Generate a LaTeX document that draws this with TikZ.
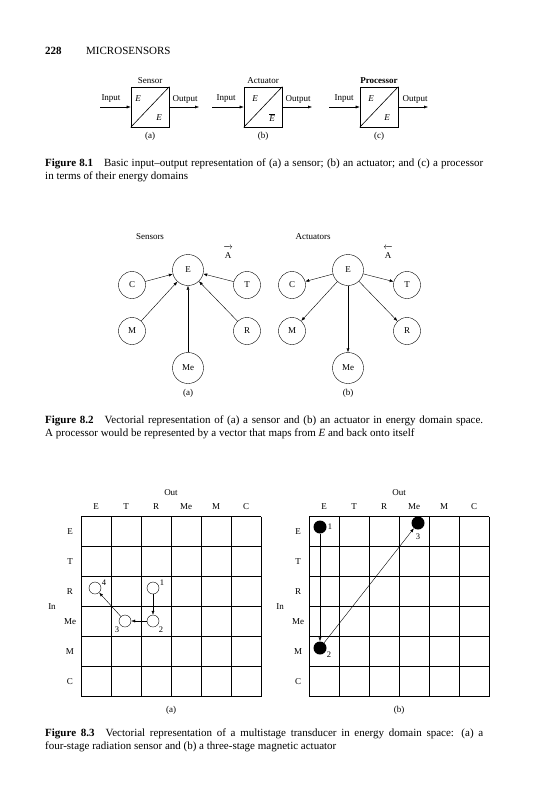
\documentclass[tikz,border=0pt]{standalone}
\usepackage{fontspec}
\setmainfont{Liberation Serif}
\usepackage{tikz}
\usetikzlibrary{positioning,arrows.meta}
\tikzset{
  bloque/.style={rectangle, draw, semithick, minimum width=38pt, minimum height=40pt, inner sep=0pt},
  etiq/.style={font=\fontsize{9}{10}\selectfont, inner sep=1pt},
  dominio/.style={circle, draw, thin, minimum size=27pt, inner sep=0pt, font=\fontsize{9}{10}\selectfont},
  dominiog/.style={dominio, minimum size=31pt},
  estado/.style={circle, draw, thin, minimum size=12pt, inner sep=0pt},
  estadon/.style={circle, fill, minimum size=13pt, inner sep=0pt},
  num/.style={font=\fontsize{8.5}{10}\selectfont, inner sep=0pt},
  rejilla/.style={line width=0.7pt},
  flecha/.style={-{Latex[length=4pt,width=3pt]}, thin},
  leyenda/.style={anchor=west, inner sep=0pt, font=\fontsize{11}{13}\selectfont},
}

\begin{document}
\begin{tikzpicture}[x=1pt, y=-1pt]
    \useasboundingbox (0,0) rectangle (535,800);
    % Cabecera
    \node[leyenda] (pag) at (45,51) {\textbf{228}};
    \node[leyenda] (tit) at (86,51) {MICROSENSORS};

    % Figura 8.1: bloques
    \node[bloque] (sen) at (150,107) {};
    \node[bloque] (act) at (263,107) {};
    \node[bloque] (pro) at (379,107) {};
    \draw[semithick] (sen.south west) -- (sen.north east);
    \draw[semithick] (act.south west) -- (act.north east);
    \draw[semithick] (pro.south west) -- (pro.north east);
    \node[etiq, above=2pt of sen] (sen-t) {Sensor};
    \node[etiq, above=2pt of act] (act-t) {Actuator};
    \node[etiq, above=2pt of pro] (pro-t) {\textbf{Processor}};
    \node[etiq, below=4pt of sen] (sen-c) {(a)};
    \node[etiq, below=4pt of act] (act-c) {(b)};
    \node[etiq, below=4pt of pro] (pro-c) {(c)};
    % dominios dentro de cada bloque
    \node[etiq] (sen-e1) at ([shift={(-12,-8)}]sen) {\textit{E}};
    \node[etiq] (sen-e2) at ([shift={(9,11)}]sen) {\textit{E}};
    \node[etiq] (act-e1) at ([shift={(-8,-8)}]act) {\textit{E}};
    \node[etiq] (act-e2) at ([shift={(9,11)}]act) {$\overline{\mbox{\textit{E}}}$};
    \node[etiq] (pro-e1) at ([shift={(-8,-8)}]pro) {\textit{E}};
    \node[etiq] (pro-e2) at ([shift={(8,11)}]pro) {\textit{E}};
    % entradas y salidas
    \coordinate (sen-in) at (100,107);
    \coordinate (sen-out) at (199,107);
    \coordinate (act-in) at (212,107);
    \coordinate (act-out) at (312,107);
    \coordinate (pro-in) at (329,107);
    \coordinate (pro-out) at (428,107);
    \draw[flecha] (sen-in) -- (sen);
    \draw[flecha] (sen) -- (sen-out);
    \draw[flecha] (act-in) -- (act);
    \draw[flecha] (act) -- (act-out);
    \draw[flecha] (pro-in) -- (pro);
    \draw[flecha] (pro) -- (pro-out);
    \node[etiq] (sen-i) at (111,99) {Input};
    \node[etiq] (sen-o) at (185,99) {Output};
    \node[etiq] (act-i) at (226,99) {Input};
    \node[etiq] (act-o) at (298,99) {Output};
    \node[etiq] (pro-i) at (344,99) {Input};
    \node[etiq] (pro-o) at (415,99) {Output};

    \node[leyenda] (cap1a) at (45,164) {\makebox[438pt][s]{\textbf{Figure 8.1}\quad Basic input--output representation of (a) a sensor; (b) an actuator; and (c) a processor}};
    \node[leyenda] (cap1b) at (45,177) {in terms of their energy domains};

    % Figura 8.2: sensores
    \node[etiq] (s-tit) at (150,237) {Sensors};
    \node[etiq] (s-vec) at (228,252) {$\overrightarrow{\mbox{\,A\,}\rule{0pt}{10pt}}$};
    \node[dominiog] (sE) at (188,270) {E};
    \node[dominio] (sC) at (132,285) {C};
    \node[dominio] (sT) at (247,285) {T};
    \node[dominio] (sM) at (132,331) {M};
    \node[dominio] (sR) at (247,331) {R};
    \node[dominiog] (sMe) at (188,368) {Me};
    \node[etiq] (s-c) at (188,393) {(a)};
    \draw[flecha] (sC) -- (sE);
    \draw[flecha] (sT) -- (sE);
    \draw[flecha] (sM) -- (sE);
    \draw[flecha] (sR) -- (sE);
    \draw[flecha] (sMe) -- (sE);

    % Figura 8.2: actuadores
    \node[etiq] (a-tit) at (313,237) {Actuators};
    \node[etiq] (a-vec) at (388,252) {$\overleftarrow{\mbox{\,A\,}\rule{0pt}{10pt}}$};
    \node[dominiog] (aE) at (348,270) {E};
    \node[dominio] (aC) at (292,285) {C};
    \node[dominio] (aT) at (407,285) {T};
    \node[dominio] (aM) at (292,331) {M};
    \node[dominio] (aR) at (407,331) {R};
    \node[dominiog] (aMe) at (348,368) {Me};
    \node[etiq] (a-c) at (348,393) {(b)};
    \draw[flecha] (aE) -- (aC);
    \draw[flecha] (aE) -- (aT);
    \draw[flecha] (aE) -- (aM);
    \draw[flecha] (aE) -- (aR);
    \draw[flecha] (aE) -- (aMe);

    \node[leyenda] (cap2a) at (45,421) {\makebox[438pt][s]{\textbf{Figure 8.2}\quad Vectorial representation of (a) a sensor and (b) an actuator in energy domain space.}};
    \node[leyenda] (cap2b) at (45,434) {A processor would be represented by a vector that maps from \textit{E} and back onto itself};

    % Figura 8.3: rejillas de dominios
    \foreach \x/\p in {81/a,309/b} {
      \foreach \i in {0,...,6} {
        \draw[rejilla] (\x+30*\i,516.5) -- (\x+30*\i,696.5);
        \draw[rejilla] (\x,516.5+30*\i) -- (\x+180,516.5+30*\i);
      }
      \foreach \l [count=\k from 0] in {E,T,R,Me,M,C} {
        \node[etiq] (col\p\k) at (\x+15+30*\k,507) {\l};
        \node[etiq] (fil\p\k) at (\x-11,531.5+30*\k) {\l};
      }
      \node[etiq] (out\p) at (\x+90,493) {Out};
      \node[etiq] (in\p) at (\x-29,607) {In};
      \node[etiq] (pie\p) at (\x+90,710) {(\p)};
    }

    % (a) sensor de radiacion de cuatro etapas
    \node[estado] (r1) at (153,588) {};
    \node[estado] (r2) at (153,621) {};
    \node[estado] (r3) at (125,621) {};
    \node[estado] (r4) at (95,588) {};
    \node[num] (n1) at (162,583) {1};
    \node[num] (n2) at (161,630) {2};
    \node[num] (n3) at (117,630) {3};
    \node[num] (n4) at (104,583) {4};
    \draw[flecha] (r1) -- (r2);
    \draw[flecha] (r2) -- (r3);
    \draw[flecha] (r3) -- (r4);

    % (b) actuador magnetico de tres etapas
    \node[estadon] (m1) at (320,527) {};
    \node[estadon] (m2) at (320,648) {};
    \node[estadon] (m3) at (418,523) {};
    \node[num] (k1) at (330,527) {1};
    \node[num] (k2) at (329,655) {2};
    \node[num] (k3) at (418,537) {3};
    \draw[flecha] (m1) -- (m2);
    \draw[flecha] (m2) -- (m3);

    \node[leyenda] (cap3a) at (45,734) {\makebox[438pt][s]{\textbf{Figure 8.3}\quad Vectorial representation of a multistage transducer in energy domain space: (a) a}};
    \node[leyenda] (cap3b) at (45,747) {four-stage radiation sensor and (b) a three-stage magnetic actuator};
  \end{tikzpicture}
\end{document}
